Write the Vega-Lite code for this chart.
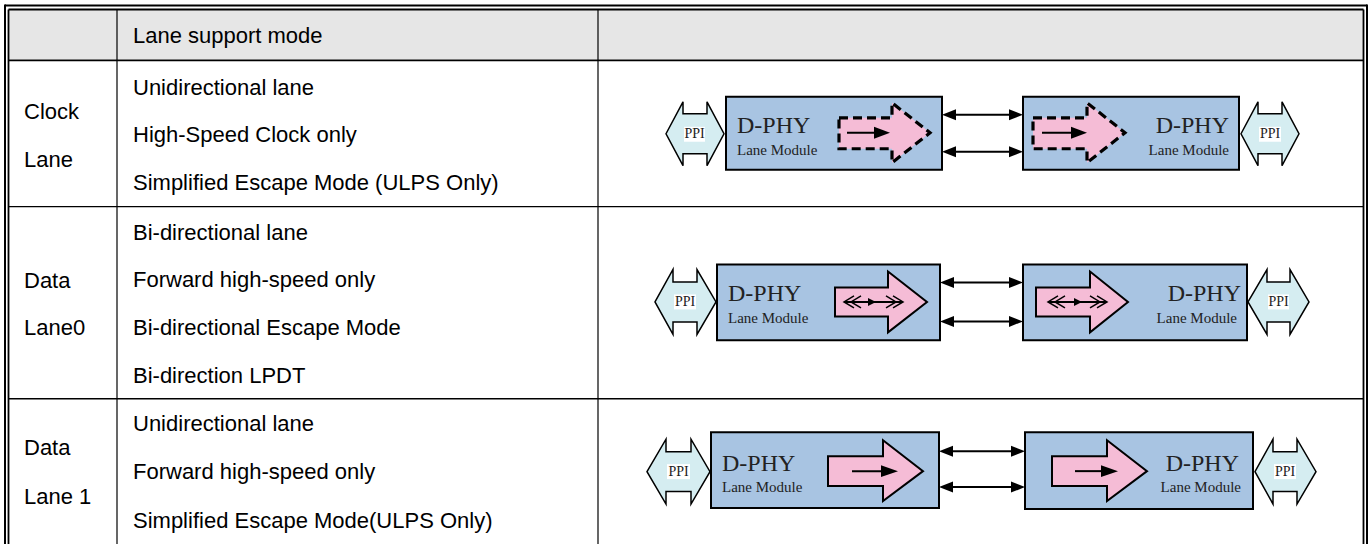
{
  "$schema": "https://vega.github.io/schema/vega-lite/v6.json",
  "width": 1371,
  "height": 545,
  "autosize": {"type": "fit", "contains": "padding"},
  "padding": 0,
  "background": "white",
  "config": {"view": {"stroke": null}},
  "datasets": {
    "hdr": [{"x": 9, "x2": 1363, "y": 10, "y2": 59.5}],
    "grid": [
      {"x": 5, "x2": 1367, "y": 5.5, "y2": 5.5, "kind": "outer"},
      {"x": 5, "x2": 5, "y": 4.5, "y2": 545, "kind": "outer"},
      {"x": 1367, "x2": 1367, "y": 4.5, "y2": 545, "kind": "outer"},
      {"x": 8.5, "x2": 1363.5, "y": 9.5, "y2": 9.5, "kind": "inner"},
      {"x": 8.5, "x2": 8.5, "y": 9.5, "y2": 545, "kind": "inner"},
      {"x": 1363.5, "x2": 1363.5, "y": 9.5, "y2": 545, "kind": "inner"},
      {"x": 8.5, "x2": 1363.5, "y": 60.5, "y2": 60.5, "kind": "header"},
      {"x": 8.5, "x2": 1363.5, "y": 207, "y2": 207, "kind": "row"},
      {"x": 8.5, "x2": 1363.5, "y": 399.5, "y2": 399.5, "kind": "row"},
      {"x": 117, "x2": 117, "y": 9.5, "y2": 545, "kind": "col"},
      {"x": 598, "x2": 598, "y": 9.5, "y2": 545, "kind": "col"}
    ],
    "boxes": [
      {"x": 726, "x2": 942, "y": 97, "y2": 170},
      {"x": 1023, "x2": 1239, "y": 97, "y2": 170},
      {"x": 717, "x2": 940, "y": 265, "y2": 341},
      {"x": 1023, "x2": 1247, "y": 265, "y2": 341},
      {"x": 711, "x2": 939, "y": 433, "y2": 509},
      {"x": 1025, "x2": 1253, "y": 433, "y2": 510}
    ],
    "shapes": [
      {"id": "p1", "grp": "ppi", "x": 666, "y": 134, "y2": 134},
      {"id": "p1", "grp": "ppi", "x": 683, "y": 102, "y2": 166},
      {"id": "p1", "grp": "ppi", "x": 683.01, "y": 114, "y2": 154},
      {"id": "p1", "grp": "ppi", "x": 707, "y": 114, "y2": 154},
      {"id": "p1", "grp": "ppi", "x": 707.01, "y": 102, "y2": 166},
      {"id": "p1", "grp": "ppi", "x": 724, "y": 134, "y2": 134},
      {"id": "p2", "grp": "ppi", "x": 1241, "y": 134, "y2": 134},
      {"id": "p2", "grp": "ppi", "x": 1258, "y": 102, "y2": 166},
      {"id": "p2", "grp": "ppi", "x": 1258.01, "y": 114, "y2": 154},
      {"id": "p2", "grp": "ppi", "x": 1282, "y": 114, "y2": 154},
      {"id": "p2", "grp": "ppi", "x": 1282.01, "y": 102, "y2": 166},
      {"id": "p2", "grp": "ppi", "x": 1299, "y": 134, "y2": 134},
      {"id": "p3", "grp": "ppi", "x": 655, "y": 302.5, "y2": 302.5},
      {"id": "p3", "grp": "ppi", "x": 673, "y": 270, "y2": 335},
      {"id": "p3", "grp": "ppi", "x": 673.01, "y": 282.5, "y2": 322.5},
      {"id": "p3", "grp": "ppi", "x": 697, "y": 282.5, "y2": 322.5},
      {"id": "p3", "grp": "ppi", "x": 697.01, "y": 270, "y2": 335},
      {"id": "p3", "grp": "ppi", "x": 716, "y": 302.5, "y2": 302.5},
      {"id": "p4", "grp": "ppi", "x": 1248, "y": 302.5, "y2": 302.5},
      {"id": "p4", "grp": "ppi", "x": 1267, "y": 270, "y2": 335},
      {"id": "p4", "grp": "ppi", "x": 1267.01, "y": 282.5, "y2": 322.5},
      {"id": "p4", "grp": "ppi", "x": 1290, "y": 282.5, "y2": 322.5},
      {"id": "p4", "grp": "ppi", "x": 1290.01, "y": 270, "y2": 335},
      {"id": "p4", "grp": "ppi", "x": 1309, "y": 302.5, "y2": 302.5},
      {"id": "p5", "grp": "ppi", "x": 647, "y": 472.5, "y2": 472.5},
      {"id": "p5", "grp": "ppi", "x": 666, "y": 440, "y2": 505},
      {"id": "p5", "grp": "ppi", "x": 666.01, "y": 452.5, "y2": 492.5},
      {"id": "p5", "grp": "ppi", "x": 691, "y": 452.5, "y2": 492.5},
      {"id": "p5", "grp": "ppi", "x": 691.01, "y": 440, "y2": 505},
      {"id": "p5", "grp": "ppi", "x": 710, "y": 472.5, "y2": 472.5},
      {"id": "p6", "grp": "ppi", "x": 1255, "y": 472.5, "y2": 472.5},
      {"id": "p6", "grp": "ppi", "x": 1273, "y": 440, "y2": 505},
      {"id": "p6", "grp": "ppi", "x": 1273.01, "y": 452.5, "y2": 492.5},
      {"id": "p6", "grp": "ppi", "x": 1297, "y": 452.5, "y2": 492.5},
      {"id": "p6", "grp": "ppi", "x": 1297.01, "y": 440, "y2": 505},
      {"id": "p6", "grp": "ppi", "x": 1316, "y": 472.5, "y2": 472.5},
      {"id": "k1", "grp": "dash", "x": 839, "y": 118, "y2": 149},
      {"id": "k1", "grp": "dash", "x": 892, "y": 118, "y2": 149},
      {"id": "k1", "grp": "dash", "x": 892.01, "y": 103, "y2": 163},
      {"id": "k1", "grp": "dash", "x": 930, "y": 133, "y2": 133},
      {"id": "k2", "grp": "dash", "x": 1033, "y": 118, "y2": 149},
      {"id": "k2", "grp": "dash", "x": 1087, "y": 118, "y2": 149},
      {"id": "k2", "grp": "dash", "x": 1087.01, "y": 103, "y2": 163},
      {"id": "k2", "grp": "dash", "x": 1125, "y": 133, "y2": 133},
      {"id": "k3", "grp": "solid", "x": 835, "y": 288, "y2": 317},
      {"id": "k3", "grp": "solid", "x": 888, "y": 288, "y2": 317},
      {"id": "k3", "grp": "solid", "x": 888.01, "y": 272, "y2": 333},
      {"id": "k3", "grp": "solid", "x": 927, "y": 302.5, "y2": 302.5},
      {"id": "k4", "grp": "solid", "x": 1036, "y": 288, "y2": 317},
      {"id": "k4", "grp": "solid", "x": 1090, "y": 288, "y2": 317},
      {"id": "k4", "grp": "solid", "x": 1090.01, "y": 272, "y2": 333},
      {"id": "k4", "grp": "solid", "x": 1128, "y": 302.5, "y2": 302.5},
      {"id": "k5", "grp": "solid", "x": 828, "y": 457, "y2": 487},
      {"id": "k5", "grp": "solid", "x": 883, "y": 457, "y2": 487},
      {"id": "k5", "grp": "solid", "x": 883.01, "y": 441, "y2": 502},
      {"id": "k5", "grp": "solid", "x": 923, "y": 472, "y2": 472},
      {"id": "k6", "grp": "solid", "x": 1052, "y": 457, "y2": 487},
      {"id": "k6", "grp": "solid", "x": 1107, "y": 457, "y2": 487},
      {"id": "k6", "grp": "solid", "x": 1107.01, "y": 441, "y2": 502},
      {"id": "k6", "grp": "solid", "x": 1147, "y": 472, "y2": 472},
      {"id": "h1", "grp": "head", "x": 942, "y": 115, "y2": 115},
      {"id": "h1", "grp": "head", "x": 956, "y": 109.5, "y2": 120.5},
      {"id": "h2", "grp": "head", "x": 1009, "y": 109.5, "y2": 120.5},
      {"id": "h2", "grp": "head", "x": 1023, "y": 115, "y2": 115},
      {"id": "h3", "grp": "head", "x": 942, "y": 152, "y2": 152},
      {"id": "h3", "grp": "head", "x": 956, "y": 146.5, "y2": 157.5},
      {"id": "h4", "grp": "head", "x": 1009, "y": 146.5, "y2": 157.5},
      {"id": "h4", "grp": "head", "x": 1023, "y": 152, "y2": 152},
      {"id": "h5", "grp": "head", "x": 940, "y": 283, "y2": 283},
      {"id": "h5", "grp": "head", "x": 954, "y": 277.5, "y2": 288.5},
      {"id": "h6", "grp": "head", "x": 1009, "y": 277.5, "y2": 288.5},
      {"id": "h6", "grp": "head", "x": 1023, "y": 283, "y2": 283},
      {"id": "h7", "grp": "head", "x": 940, "y": 322, "y2": 322},
      {"id": "h7", "grp": "head", "x": 954, "y": 316.5, "y2": 327.5},
      {"id": "h8", "grp": "head", "x": 1009, "y": 316.5, "y2": 327.5},
      {"id": "h8", "grp": "head", "x": 1023, "y": 322, "y2": 322},
      {"id": "h9", "grp": "head", "x": 939, "y": 452, "y2": 452},
      {"id": "h9", "grp": "head", "x": 953, "y": 446.5, "y2": 457.5},
      {"id": "h10", "grp": "head", "x": 1011, "y": 446.5, "y2": 457.5},
      {"id": "h10", "grp": "head", "x": 1025, "y": 452, "y2": 452},
      {"id": "h11", "grp": "head", "x": 939, "y": 488, "y2": 488},
      {"id": "h11", "grp": "head", "x": 953, "y": 482.5, "y2": 493.5},
      {"id": "h12", "grp": "head", "x": 1011, "y": 482.5, "y2": 493.5},
      {"id": "h12", "grp": "head", "x": 1025, "y": 488, "y2": 488},
      {"id": "h13", "grp": "head", "x": 874, "y": 127, "y2": 139},
      {"id": "h13", "grp": "head", "x": 890, "y": 133, "y2": 133},
      {"id": "h14", "grp": "head", "x": 1071, "y": 127, "y2": 139},
      {"id": "h14", "grp": "head", "x": 1087, "y": 133, "y2": 133},
      {"id": "h15", "grp": "head", "x": 881, "y": 466, "y2": 478},
      {"id": "h15", "grp": "head", "x": 898, "y": 472, "y2": 472},
      {"id": "h16", "grp": "head", "x": 1101, "y": 466, "y2": 478},
      {"id": "h16", "grp": "head", "x": 1118, "y": 472, "y2": 472},
      {"id": "h17", "grp": "head", "x": 868, "y": 298.5, "y2": 306.5},
      {"id": "h17", "grp": "head", "x": 876, "y": 302.5, "y2": 302.5},
      {"id": "h18", "grp": "head", "x": 1074, "y": 298.5, "y2": 306.5},
      {"id": "h18", "grp": "head", "x": 1082, "y": 302.5, "y2": 302.5}
    ],
    "shafts": [
      {"x": 950, "x2": 1015, "y": 115, "y2": 115},
      {"x": 950, "x2": 1015, "y": 152, "y2": 152},
      {"x": 948, "x2": 1015, "y": 283, "y2": 283},
      {"x": 948, "x2": 1015, "y": 322, "y2": 322},
      {"x": 947, "x2": 1017, "y": 452, "y2": 452},
      {"x": 947, "x2": 1017, "y": 488, "y2": 488},
      {"x": 847, "x2": 880, "y": 133, "y2": 133},
      {"x": 1042, "x2": 1077, "y": 133, "y2": 133},
      {"x": 852, "x2": 887, "y": 472, "y2": 472},
      {"x": 1075, "x2": 1107, "y": 472, "y2": 472},
      {"x": 845, "x2": 902, "y": 302.5, "y2": 302.5},
      {"x": 1049, "x2": 1106, "y": 302.5, "y2": 302.5}
    ],
    "chev": [
      {"id": "c1", "k": 1, "x": 854, "y": 296.5}, {"id": "c1", "k": 2, "x": 844, "y": 302.5}, {"id": "c1", "k": 3, "x": 854, "y": 308.5},
      {"id": "c2", "k": 1, "x": 861, "y": 296.5}, {"id": "c2", "k": 2, "x": 851, "y": 302.5}, {"id": "c2", "k": 3, "x": 861, "y": 308.5},
      {"id": "c3", "k": 1, "x": 893, "y": 296.5}, {"id": "c3", "k": 2, "x": 903, "y": 302.5}, {"id": "c3", "k": 3, "x": 893, "y": 308.5},
      {"id": "c4", "k": 1, "x": 886, "y": 296.5}, {"id": "c4", "k": 2, "x": 896, "y": 302.5}, {"id": "c4", "k": 3, "x": 886, "y": 308.5},
      {"id": "c5", "k": 1, "x": 1058, "y": 296.5}, {"id": "c5", "k": 2, "x": 1048, "y": 302.5}, {"id": "c5", "k": 3, "x": 1058, "y": 308.5},
      {"id": "c6", "k": 1, "x": 1065, "y": 296.5}, {"id": "c6", "k": 2, "x": 1055, "y": 302.5}, {"id": "c6", "k": 3, "x": 1065, "y": 308.5},
      {"id": "c7", "k": 1, "x": 1097, "y": 296.5}, {"id": "c7", "k": 2, "x": 1107, "y": 302.5}, {"id": "c7", "k": 3, "x": 1097, "y": 308.5},
      {"id": "c8", "k": 1, "x": 1090, "y": 296.5}, {"id": "c8", "k": 2, "x": 1100, "y": 302.5}, {"id": "c8", "k": 3, "x": 1090, "y": 308.5}
    ],
    "ppibg": [
      {"x": 684, "x2": 705, "y": 127, "y2": 142},
      {"x": 1259, "x2": 1281, "y": 127, "y2": 142},
      {"x": 674, "x2": 696, "y": 295, "y2": 310},
      {"x": 1268, "x2": 1289, "y": 295, "y2": 310},
      {"x": 667, "x2": 690, "y": 465, "y2": 480},
      {"x": 1274, "x2": 1296, "y": 465, "y2": 480}
    ],
    "ppitext": [
      {"x": 694.5, "y": 134.5, "t": "PPI"},
      {"x": 1270, "y": 134.5, "t": "PPI"},
      {"x": 685, "y": 302.5, "t": "PPI"},
      {"x": 1278.5, "y": 302.5, "t": "PPI"},
      {"x": 678.5, "y": 472.5, "t": "PPI"},
      {"x": 1285, "y": 472.5, "t": "PPI"}
    ],
    "dphy": [
      {"x": 737, "y": 133, "t": "D-PHY", "side": "L", "kind": "title"},
      {"x": 737, "y": 155, "t": "Lane Module", "side": "L", "kind": "sub"},
      {"x": 1229, "y": 133, "t": "D-PHY", "side": "R", "kind": "title"},
      {"x": 1229, "y": 155, "t": "Lane Module", "side": "R", "kind": "sub"},
      {"x": 728, "y": 302, "t": "D-PHY", "side": "L", "kind": "title"},
      {"x": 728, "y": 324, "t": "Lane Module", "side": "L", "kind": "sub"},
      {"x": 1241, "y": 302, "t": "D-PHY", "side": "R", "kind": "title"},
      {"x": 1237, "y": 324, "t": "Lane Module", "side": "R", "kind": "sub"},
      {"x": 722, "y": 472, "t": "D-PHY", "side": "L", "kind": "title"},
      {"x": 722, "y": 493, "t": "Lane Module", "side": "L", "kind": "sub"},
      {"x": 1239, "y": 472, "t": "D-PHY", "side": "R", "kind": "title"},
      {"x": 1241, "y": 493, "t": "Lane Module", "side": "R", "kind": "sub"}
    ],
    "sans": [
      {"x": 133, "y": 36, "t": "Lane support mode"},
      {"x": 24, "y": 112, "t": "Clock"},
      {"x": 24, "y": 160, "t": "Lane"},
      {"x": 24, "y": 282, "t": "Data"},
      {"x": 24, "y": 329, "t": "Lane0"},
      {"x": 24, "y": 449, "t": "Data"},
      {"x": 24, "y": 498, "t": "Lane 1"},
      {"x": 133, "y": 88, "t": "Unidirectional lane"},
      {"x": 133, "y": 135, "t": "High-Speed Clock only"},
      {"x": 133, "y": 183, "t": "Simplified Escape Mode (ULPS Only)"},
      {"x": 133, "y": 233, "t": "Bi-directional lane"},
      {"x": 133, "y": 281, "t": "Forward high-speed only"},
      {"x": 133, "y": 329, "t": "Bi-directional Escape Mode"},
      {"x": 133, "y": 377, "t": "Bi-direction LPDT"},
      {"x": 133, "y": 425, "t": "Unidirectional lane"},
      {"x": 133, "y": 473, "t": "Forward high-speed only"},
      {"x": 133, "y": 522, "t": "Simplified Escape Mode(ULPS Only)"}
    ]
  },
  "encoding": {
    "x": {"field": "x", "type": "quantitative", "scale": {"domain": [0, 1371], "nice": false, "zero": false}, "axis": null},
    "y": {"field": "y", "type": "quantitative", "scale": {"domain": [0, 545], "nice": false, "zero": false, "reverse": true}, "axis": null}
  },
  "layer": [
    {
      "data": {"name": "hdr"},
      "mark": {"type": "rect", "fill": "#e6e6e6"},
      "encoding": {"x2": {"field": "x2"}, "y2": {"field": "y2"}}
    },
    {
      "data": {"name": "grid"},
      "mark": {"type": "rule", "color": "black"},
      "encoding": {
        "x2": {"field": "x2"},
        "y2": {"field": "y2"},
        "strokeWidth": {"field": "kind", "type": "ordinal", "scale": {"domain": ["outer", "inner", "header", "row", "col"], "range": [2, 1.2, 3.5, 2.5, 2]}, "legend": null}
      }
    },
    {
      "data": {"name": "shapes"},
      "transform": [{"filter": "datum.grp === 'ppi'"}],
      "mark": {"type": "area", "fill": "#d5edf1", "fillOpacity": 1, "stroke": "black", "strokeWidth": 1.5, "orient": "vertical"},
      "encoding": {
        "y": {"field": "y", "type": "quantitative", "stack": null, "scale": {"domain": [0, 545], "nice": false, "zero": false, "reverse": true}, "axis": null},
        "y2": {"field": "y2"},
        "detail": {"field": "id"}
      }
    },
    {
      "data": {"name": "ppibg"},
      "mark": {"type": "rect", "fill": "white"},
      "encoding": {"x2": {"field": "x2"}, "y2": {"field": "y2"}}
    },
    {
      "data": {"name": "ppitext"},
      "mark": {"type": "text", "font": "Liberation Serif", "fontSize": 14, "align": "center", "baseline": "middle", "color": "#222"},
      "encoding": {"text": {"field": "t"}}
    },
    {
      "data": {"name": "boxes"},
      "mark": {"type": "rect", "fill": "#a8c4e2", "stroke": "black", "strokeWidth": 2},
      "encoding": {"x2": {"field": "x2"}, "y2": {"field": "y2"}}
    },
    {
      "data": {"name": "shapes"},
      "transform": [{"filter": "datum.grp === 'solid'"}],
      "mark": {"type": "area", "fill": "#f5bcd6", "fillOpacity": 1, "stroke": "black", "strokeWidth": 2, "orient": "vertical"},
      "encoding": {
        "y": {"field": "y", "type": "quantitative", "stack": null, "scale": {"domain": [0, 545], "nice": false, "zero": false, "reverse": true}, "axis": null},
        "y2": {"field": "y2"},
        "detail": {"field": "id"}
      }
    },
    {
      "data": {"name": "shapes"},
      "transform": [{"filter": "datum.grp === 'dash'"}],
      "mark": {"type": "area", "fill": "#f5bcd6", "fillOpacity": 1, "stroke": "black", "strokeWidth": 3.2, "strokeDash": [9, 5], "orient": "vertical"},
      "encoding": {
        "y": {"field": "y", "type": "quantitative", "stack": null, "scale": {"domain": [0, 545], "nice": false, "zero": false, "reverse": true}, "axis": null},
        "y2": {"field": "y2"},
        "detail": {"field": "id"}
      }
    },
    {
      "data": {"name": "shafts"},
      "mark": {"type": "rule", "color": "black", "strokeWidth": 2},
      "encoding": {"x2": {"field": "x2"}, "y2": {"field": "y2"}}
    },
    {
      "data": {"name": "chev"},
      "mark": {"type": "line", "color": "black", "strokeWidth": 1.5},
      "encoding": {
        "detail": {"field": "id"},
        "order": {"field": "k", "type": "quantitative"}
      }
    },
    {
      "data": {"name": "shapes"},
      "transform": [{"filter": "datum.grp === 'head'"}],
      "mark": {"type": "area", "fill": "black", "fillOpacity": 1, "orient": "vertical"},
      "encoding": {
        "y": {"field": "y", "type": "quantitative", "stack": null, "scale": {"domain": [0, 545], "nice": false, "zero": false, "reverse": true}, "axis": null},
        "y2": {"field": "y2"},
        "detail": {"field": "id"}
      }
    },
    {
      "data": {"name": "dphy"},
      "transform": [{"filter": "datum.side === 'L'"}],
      "mark": {"type": "text", "font": "Liberation Serif", "align": "left", "baseline": "alphabetic", "color": "#222"},
      "encoding": {
        "text": {"field": "t"},
        "size": {"field": "kind", "type": "ordinal", "scale": {"domain": ["title", "sub"], "range": [24, 15]}, "legend": null}
      }
    },
    {
      "data": {"name": "dphy"},
      "transform": [{"filter": "datum.side === 'R'"}],
      "mark": {"type": "text", "font": "Liberation Serif", "align": "right", "baseline": "alphabetic", "color": "#222"},
      "encoding": {
        "text": {"field": "t"},
        "size": {"field": "kind", "type": "ordinal", "scale": {"domain": ["title", "sub"], "range": [24, 15]}, "legend": null}
      }
    },
    {
      "data": {"name": "sans"},
      "mark": {"type": "text", "font": "Liberation Sans", "fontSize": 22, "align": "left", "baseline": "middle", "color": "black"},
      "encoding": {"text": {"field": "t"}}
    }
  ]
}
